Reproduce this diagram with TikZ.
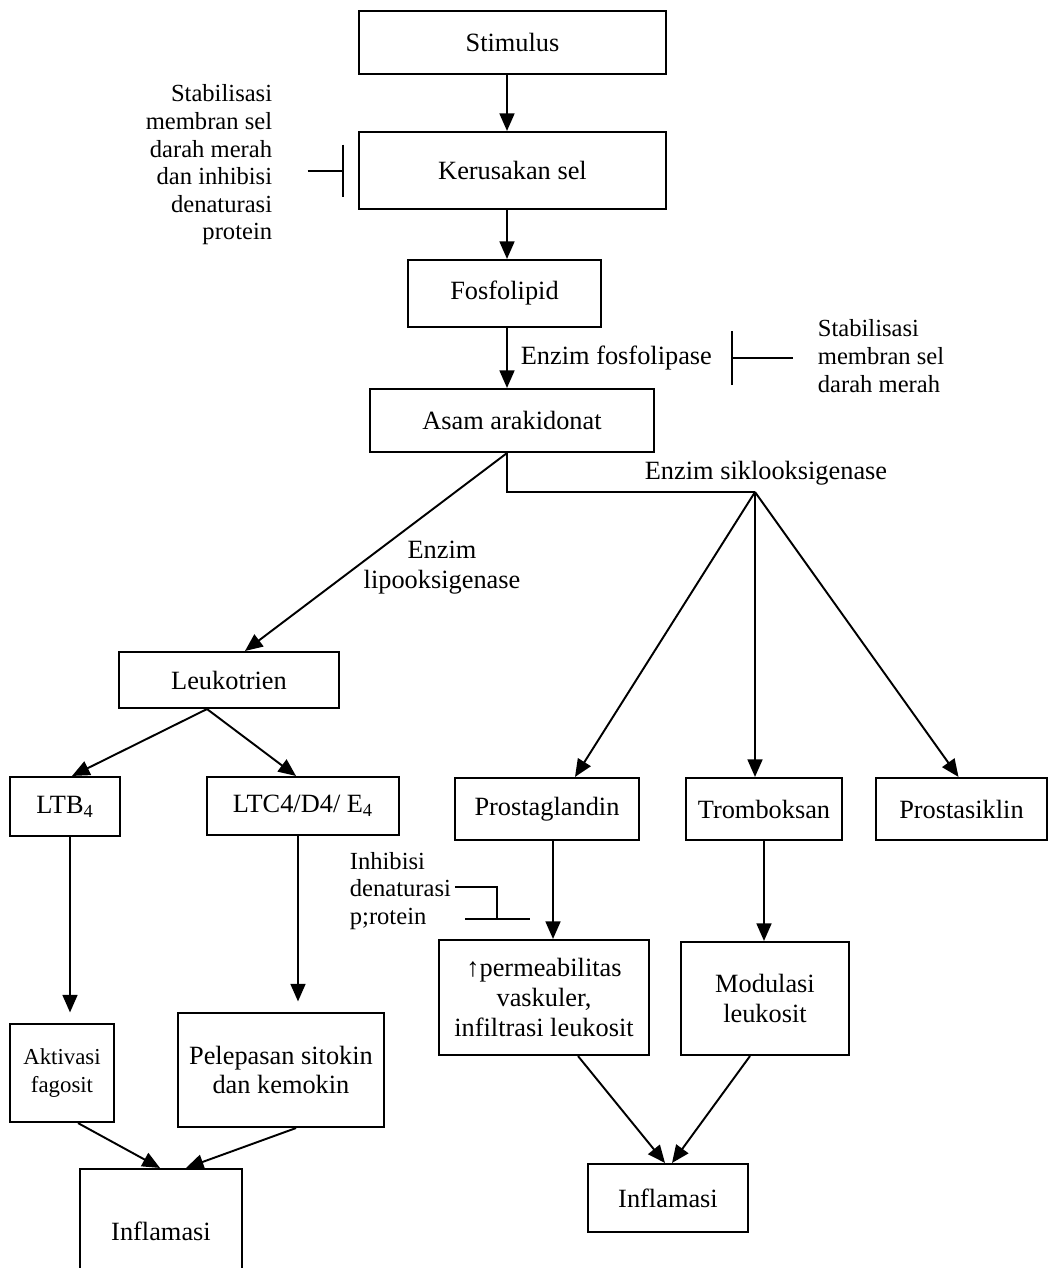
\documentclass[tikz,border=0pt]{standalone}
\usepackage{fontspec}
\setmainfont{Liberation Serif}
\usetikzlibrary{arrows.meta,positioning,calc}

\begin{document}
\begin{tikzpicture}[
  x=0.02cm, y=-0.02cm,
  font=\fontsize{15}{17}\selectfont,
  >={Triangle[length=10pt,width=8.5pt]},
  box/.style={draw, line width=1.2pt, align=center, inner sep=2pt},
  arr/.style={->, line width=1.1pt},
  inhib/.style={-{Bar[width=#1, line width=1.1pt]}, line width=1.1pt},
  inhib/.default=30pt,
  note/.style={inner sep=2pt, font=\fontsize{14}{15.7}\selectfont}
]
\useasboundingbox (0,0) rectangle (1050,1268);

  % --- main column ---
  \node[box, minimum width=6.14cm, minimum height=1.26cm] (stim) at (512.5,42.5) {Stimulus};
  \node[box, minimum width=6.14cm, minimum height=1.54cm] (ker) at (512.5,170.5) {Kerusakan sel};
  \node[box, minimum width=3.86cm, minimum height=1.34cm] (fos) at (504.5,293.5) {Fosfolipid};
  \node[box, minimum width=5.68cm, minimum height=1.26cm] (asam) at (512,420.5) {Asam arakidonat};

  % --- leukotrien branch ---
  \node[box, minimum width=4.4cm, minimum height=1.12cm] (leuk) at (229,680) {Leukotrien};
  \node[box, minimum width=2.2cm, minimum height=1.18cm] (ltb) at (65,806.5) {LTB\textsubscript{4}};
  \node[box, minimum width=3.84cm, minimum height=1.16cm] (ltc) at (303,806) {LTC4/D4/ E\textsubscript{4}};
  \node[box, minimum width=2.08cm, minimum height=1.96cm, font=\fontsize{13}{16}\selectfont] (akt) at (62,1073) {Aktivasi\\fagosit};
  \node[box, minimum width=4.12cm, minimum height=2.28cm] (pel) at (281,1070) {Pelepasan sitokin\\dan kemokin};
  \node[box, minimum width=3.24cm, minimum height=2.48cm] (infl) at (161,1231) {Inflamasi};

  % --- siklooksigenase branch ---
  \node[box, minimum width=3.68cm, minimum height=1.24cm] (pg) at (547,809) {Prostaglandin};
  \node[box, minimum width=3.12cm, minimum height=1.24cm] (tx) at (764,809) {Tromboksan};
  \node[box, minimum width=3.42cm, minimum height=1.24cm] (pgi) at (961.5,809) {Prostasiklin};
  \node[box, minimum width=4.2cm, minimum height=2.3cm] (perm) at (544,997.5) {↑permeabilitas\\vaskuler,\\infiltrasi leukosit};
  \node[box, minimum width=3.36cm, minimum height=2.26cm] (mod) at (765,998.5) {Modulasi\\leukosit};
  \node[box, minimum width=3.2cm, minimum height=1.36cm] (infr) at (668,1198) {Inflamasi};

  % --- labels ---
  \node[note, anchor=east, align=right] (stab1) at (276,165) {Stabilisasi\\membran sel\\darah merah\\dan inhibisi\\denaturasi\\protein};
  \node[note, anchor=west, align=left] (stab2) at (814,356) {Stabilisasi\\membran sel\\darah merah};
  \node[note, anchor=west, align=left] (inh3) at (346,891) {Inhibisi\\denaturasi\\p;rotein};
  \node[anchor=west, inner sep=2pt] (pla) at (517,358) {Enzim fosfolipase};
  \node[inner sep=2pt] (coxlbl) at (766,473) {Enzim siklooksigenase};
  \node[align=center, inner sep=2pt] (lox) at (442,568) {Enzim\\lipooksigenase};

  % --- connectors ---
  \coordinate (spine) at (507,0);
  \coordinate (cox) at (755,492);
  \draw[arr] (stim.south -| spine) -- (ker.north -| spine);
  \draw[arr] (ker.south -| spine) -- (fos.north -| spine);
  \draw[arr] (fos.south -| spine) -- (asam.north -| spine);
  \draw[line width=1.1pt] (asam.south -| spine) |- (cox);
  \draw[arr] (asam.south -| spine) -- ($(leuk.north)+(16,0)$);
  \draw[arr] (cox) -- ($(pg.north)+(28,0)$);
  \draw[arr] (cox) -- (cox |- tx.north);
  \draw[arr] (cox) -- ($(pgi.north)+(-3,0)$);
  \draw[arr] ($(leuk.south)+(-22,0)$) -- ($(ltb.north)+(7,0)$);
  \draw[arr] ($(leuk.south)+(-22,0)$) -- ($(ltc.north)+(-7,0)$);
  \draw[arr, shorten >=6pt] ($(ltb.south)+(5,0)$) -- ($(ltb.south |- akt.north)+(5,0)$);
  \draw[arr, shorten >=6pt] ($(ltc.south)+(-5,0)$) -- ($(ltc.south |- pel.north)+(-5,0)$);
  \draw[arr] ($(pg.south)+(6,0)$) -- ($(pg.south |- perm.north)+(6,0)$);
  \draw[arr] (tx.south) -- (tx.south |- mod.north);
  \draw[arr] ($(akt.south)+(16,0)$) -- ($(infl.north)+(-1,0)$);
  \draw[arr] ($(pel.south)+(15,0)$) -- ($(infl.north)+(25,0)$);
  \draw[arr] ($(perm.south)+(34,0)$) -- ($(infr.north)+(-3,0)$);
  \draw[arr] ($(mod.south)+(-15,0)$) -- ($(infr.north)+(4,0)$);

  % --- inhibition bars ---
  \coordinate (bar1) at (344,171);
  \coordinate (bar2) at (731,358);
  \coordinate (bend3) at (497,887);
  \coordinate (bar3) at (497,920);
  \draw[inhib=30pt, shorten <=18pt] (stab1.east |- bar1) -- (bar1);
  \draw[inhib=31pt, shorten <=12pt] (stab2.west |- bar2) -- (bar2);
  \draw[inhib=37pt] (inh3.east |- bend3) -- (bend3) -- (bar3);

\end{tikzpicture}
\end{document}
